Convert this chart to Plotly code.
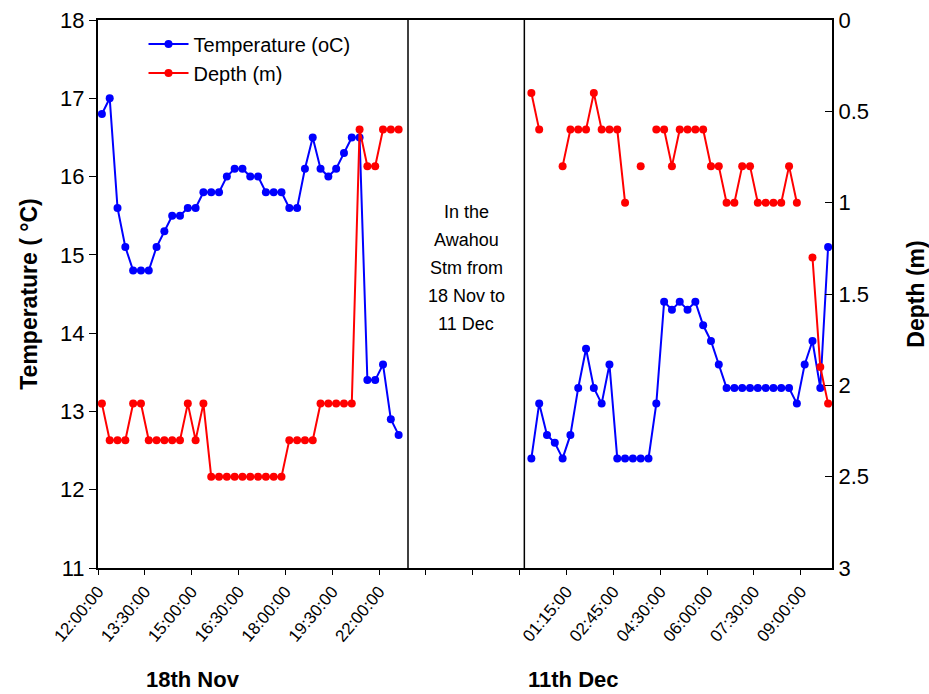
import plotly.graph_objects as go

# ---------------- data ----------------
nov_times = ["12:00:00", "13:30:00", "15:00:00", "16:30:00", "18:00:00", "19:30:00", "22:00:00"]
dec_times = ["01:15:00", "02:45:00", "04:30:00", "06:00:00", "07:30:00", "09:00:00"]

nov_start = 0      # first slot of 18th Nov records
dec_start = 55     # first slot of 11th Dec records
n_slots = 94       # total category slots on the x axis
label_every = 6    # one time label every 6 records

temp_nov = [16.8, 17.0, 15.6, 15.1, 14.8, 14.8, 14.8, 15.1, 15.3, 15.5,
            15.5, 15.6, 15.6, 15.8, 15.8, 15.8, 16.0, 16.1, 16.1, 16.0,
            16.0, 15.8, 15.8, 15.8, 15.6, 15.6, 16.1, 16.5, 16.1, 16.0,
            16.1, 16.3, 16.5, 16.5, 13.4, 13.4, 13.6, 12.9, 12.7]
depth_nov = [2.1, 2.3, 2.3, 2.3, 2.1, 2.1, 2.3, 2.3, 2.3, 2.3,
             2.3, 2.1, 2.3, 2.1, 2.5, 2.5, 2.5, 2.5, 2.5, 2.5,
             2.5, 2.5, 2.5, 2.5, 2.3, 2.3, 2.3, 2.3, 2.1, 2.1,
             2.1, 2.1, 2.1, 0.6, 0.8, 0.8, 0.6, 0.6, 0.6]

temp_dec = [12.4, 13.1, 12.7, 12.6, 12.4, 12.7, 13.3, 13.8, 13.3, 13.1,
            13.6, 12.4, 12.4, 12.4, 12.4, 12.4, 13.1, 14.4, 14.3, 14.4,
            14.3, 14.4, 14.1, 13.9, 13.6, 13.3, 13.3, 13.3, 13.3, 13.3,
            13.3, 13.3, 13.3, 13.3, 13.1, 13.6, 13.9, 13.3, 15.1]
depth_dec = [0.4, 0.6, None, None, 0.8, 0.6, 0.6, 0.6, 0.4, 0.6,
             0.6, 0.6, 1.0, None, 0.8, None, 0.6, 0.6, 0.8, 0.6,
             0.6, 0.6, 0.6, 0.8, 0.8, 1.0, 1.0, 0.8, 0.8, 1.0,
             1.0, 1.0, 1.0, 0.8, 1.0, None, 1.3, 1.9, 2.1]

gap_note_lines = ["In the", "Awahou", "Stm from", "18 Nov to", "11 Dec"]

# ---------------- build series on the category slots ----------------
x_nov = [nov_start + i + 0.5 for i in range(len(temp_nov))]
x_dec = [dec_start + i + 0.5 for i in range(len(temp_dec))]
x_all = x_nov + [None] + x_dec
temp_all = temp_nov + [None] + temp_dec
depth_all = depth_nov + [None] + depth_dec

tickvals = list(range(0, n_slots - 3, label_every))
ticktext = []
for tv in tickvals:
    if tv < nov_start + len(nov_times) * label_every:
        ticktext.append(nov_times[(tv - nov_start) // label_every])
    elif tv >= 60:
        ticktext.append(dec_times[(tv - 60) // label_every])
    else:
        ticktext.append("")

FONT = "Liberation Sans, Arial, sans-serif"

fig = go.Figure()
fig.add_trace(go.Scatter(
    x=x_all, y=temp_all, name="Temperature (oC)", mode="lines+markers",
    line=dict(color="#0000FF", width=2), marker=dict(color="#0000FF", size=8),
    connectgaps=False, yaxis="y"))
fig.add_trace(go.Scatter(
    x=x_all, y=depth_all, name="Depth (m)", mode="lines+markers",
    line=dict(color="#FF0000", width=2), marker=dict(color="#FF0000", size=8),
    connectgaps=False, yaxis="y2"))

# separators of the gap period
for xv in (39.7, 54.6):
    fig.add_shape(type="line", xref="x", yref="paper", x0=xv, x1=xv, y0=0, y1=1,
                  line=dict(color="black", width=1.5))

# note inside the gap, one annotation per line to match the wide line spacing
for k, line in enumerate(gap_note_lines):
    fig.add_annotation(x=47.15, xref="x", y=(568 - 212 - 28 * k) / 548, yref="paper",
                       text=line, showarrow=False, xanchor="center", yanchor="middle",
                       font=dict(family=FONT, size=18, color="black"))

fig.add_annotation(x=(193 - 98) / 734, xref="paper", y=(568 - 694) / 548, yref="paper",
                   text="<b>18th Nov</b>", showarrow=False, xanchor="center", yanchor="bottom",
                   font=dict(family="Liberation Sans Narrow, " + FONT, size=22, color="black"))
fig.add_annotation(x=(573 - 98) / 734, xref="paper", y=(568 - 694) / 548, yref="paper",
                   text="<b>11th Dec</b>", showarrow=False, xanchor="center", yanchor="bottom",
                   font=dict(family="Liberation Sans Narrow, " + FONT, size=22, color="black"))

fig.update_layout(
    width=929, height=694,
    margin=dict(l=98, r=97, t=20, b=126, autoexpand=False),
    paper_bgcolor="white", plot_bgcolor="white",
    font=dict(family=FONT, color="black"),
    showlegend=True,
    legend=dict(x=0.062, y=0.992, xanchor="left", yanchor="top",
                bgcolor="rgba(0,0,0,0)", font=dict(family=FONT, size=20),
                itemwidth=40),
    xaxis=dict(range=[0, n_slots], tickmode="array", tickvals=tickvals, ticktext=ticktext,
               tickangle=-50, tickfont=dict(family=FONT, size=17), automargin=False,
               showgrid=False, zeroline=False, showline=True, linecolor="black",
               linewidth=2, mirror=True, ticks="outside", ticklen=5, tickcolor="black"),
    yaxis=dict(range=[11, 18], dtick=1, tickfont=dict(family=FONT, size=22), automargin=False,
               title=dict(text="<b>Temperature ( °C)</b>", font=dict(family=FONT, size=23),
                          standoff=16),
               showgrid=False, zeroline=False, showline=True, linecolor="black",
               linewidth=2, mirror=True, ticks="outside", ticklen=7, tickcolor="black"),
    yaxis2=dict(range=[3, 0], dtick=0.5, overlaying="y", side="right",
                tickfont=dict(family=FONT, size=22), automargin=False,
                title=dict(text="<b>Depth (m)</b>", font=dict(family=FONT, size=23),
                           standoff=45),
                showgrid=False, zeroline=False, showline=True, linecolor="black",
                linewidth=2, ticks="inside", ticklen=7, tickcolor="black"),
)

fig.write_html("out.html")
